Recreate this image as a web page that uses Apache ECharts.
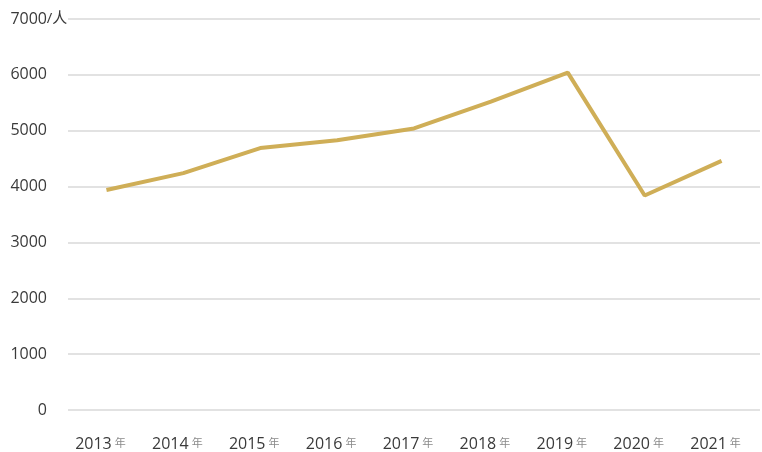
<!DOCTYPE html>
<html>
<head>
<meta charset="utf-8">
<script src="https://cdn.jsdelivr.net/npm/echarts@6/dist/echarts.min.js"></script>
<style>html,body{margin:0;padding:0;background:#fff}#c{width:762px;height:452px}</style>
</head>
<body>
<div id="c"></div>
<script>
const years = ['2013','2014','2015','2016','2017','2018','2019','2020','2021'];
const yearSuffix = '年';
const categories = years.map(y => y + yearSuffix);
const values = [3940, 4240, 4690, 4830, 5040, 5520, 6040, 3840, 4460];
const yUnit = '/人';
const yMax = 7000;

const font = '"Open Sans", "Noto Sans CJK SC", sans-serif';
const chart = echarts.init(document.getElementById('c'), null, {renderer: 'canvas'});
chart.setOption({
  animation: false,
  backgroundColor: '#ffffff',
  grid: {left: 68, right: 2, top: 19, bottom: 42},
  xAxis: {
    type: 'category',
    data: categories,
    boundaryGap: true,
    axisLine: {show: false},
    axisTick: {show: false},
    axisLabel: {
      interval: 0,
      margin: 26,
      padding: [0, 12, 0, 0],
      fontFamily: font,
      formatter: v => '{n|' + v.replace(yearSuffix, '') + '}{s|' + yearSuffix + '}',
      rich: {
        n: {fontSize: 16, color: '#3a3a3a', fontFamily: font},
        s: {fontSize: 11, color: '#8a8a8a', fontFamily: font, padding: [0, 0, 0, 3]}
      }
    }
  },
  yAxis: {
    type: 'value',
    min: 0, max: yMax, interval: 1000,
    axisLine: {show: false},
    axisTick: {show: false},
    splitLine: {lineStyle: {color: '#e2e2e2', width: 2}},
    axisLabel: {
      align: 'right',
      margin: 1,
      fontFamily: font,
      formatter: v => '{n|' + v + '}' + (v === yMax ? '{u|' + yUnit + '}' : '{p| }'),
      rich: {
        n: {fontSize: 16, color: '#3a3a3a', fontFamily: font},
        u: {fontSize: 15, color: '#3a3a3a', fontFamily: font, width: 20, align: 'left'},
        p: {fontSize: 15, color: 'rgba(0,0,0,0)', width: 20}
      }
    }
  },
  series: [{
    type: 'line',
    data: values,
    symbol: 'none',
    lineStyle: {color: '#cfae57', width: 4},
    itemStyle: {color: '#cfae57'}
  }]
});
</script>
</body>
</html>
